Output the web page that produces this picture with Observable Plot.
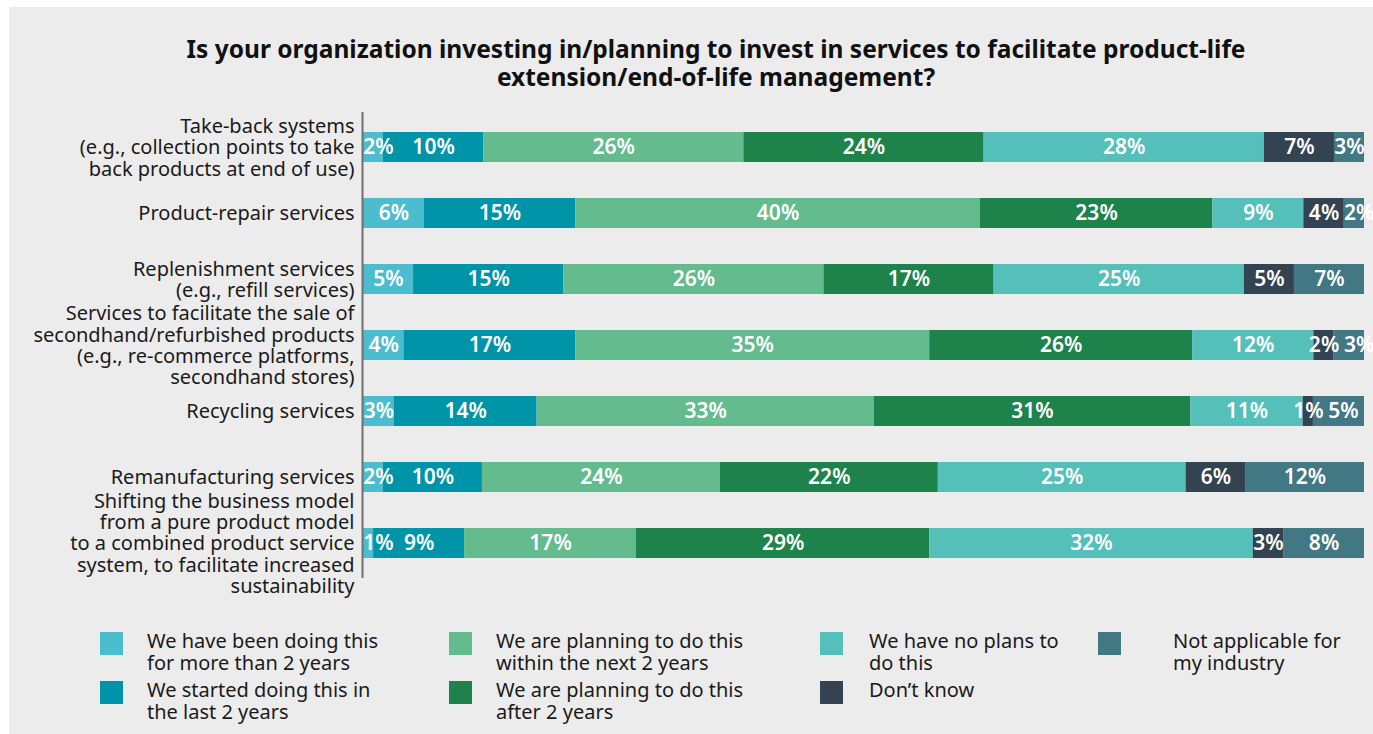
<!DOCTYPE html>
<html><head><meta charset="utf-8">
<script src="https://cdn.jsdelivr.net/npm/d3@7"></script>
<script src="https://cdn.jsdelivr.net/npm/@observablehq/plot@0.6"></script>
<style>
body{margin:0;background:#fff;width:1373px;height:734px;overflow:hidden;position:relative;font-family:"Noto Sans",sans-serif;color:#1a1a1a;}
#panel{position:absolute;left:9px;top:7px;width:1364px;height:727px;background:#ececec;}
#title{position:absolute;left:0;top:35px;width:1432px;text-align:center;font-weight:700;font-size:24.5px;line-height:28px;color:#111;}
#chart{position:absolute;left:0;top:100px;}
.lg-sw{position:absolute;width:23px;height:23px;}
.lg-tx{position:absolute;font-size:20px;line-height:21.5px;color:#1a1a1a;white-space:nowrap;}
</style>
</head><body>
<div id="panel"></div>
<div id="title">Is your organization investing in/planning to invest in services to facilitate product-life<br>extension/end-of-life management?</div>
<div id="chart"></div>
<div id="legend"></div>
<script>
const categories = [
  "Take-back systems",
  "Product-repair services",
  "Replenishment services",
  "Secondhand/refurbished",
  "Recycling services",
  "Remanufacturing services",
  "Product service system"
];
const categoryLabels = [
  "Take-back systems\n(e.g., collection points to take\nback products at end of use)",
  "Product-repair services",
  "Replenishment services\n(e.g., refill services)",
  "Services to facilitate the sale of\nsecondhand/refurbished products\n(e.g., re-commerce platforms,\nsecondhand stores)",
  "Recycling services",
  "Remanufacturing services",
  "Shifting the business model\nfrom a pure product model\nto a combined product service\nsystem, to facilitate increased\nsustainability"
];
const series = [
  "We have been doing this\nfor more than 2 years",
  "We started doing this in\nthe last 2 years",
  "We are planning to do this\nwithin the next 2 years",
  "We are planning to do this\nafter 2 years",
  "We have no plans to\ndo this",
  "Don’t know",
  "Not applicable for\nmy industry"
];
const colors = ["#4bbdcf","#0094a8","#63bb8e","#1d834a","#55bfba","#334351","#427784"];
const takeBack      = [2,10,26,24,28,7,3];
const productRepair = [6,15,40,23,9,4,2];
const replenishment = [5,15,26,17,25,5,7];
const secondhand    = [4,17,35,26,12,2,3];
const recycling     = [3,14,33,31,11,1,5];
const remanufacture = [2,10,24,22,25,6,12];
const productService= [1,9,17,29,32,3,8];
const values = [takeBack, productRepair, replenishment, secondhand, recycling, remanufacture, productService];

const data = categories.flatMap((c,i)=>series.map((s,j)=>({cat:c, series:s, value:values[i][j]})));
const labelOf = new Map(categories.map((c,i)=>[c, categoryLabels[i]]));

// value labels: segment midpoints (normalized), nudged so neighbouring labels do not collide
const W = 1373, ML = 363, MR = 9, FS = 21;
const unitPx = W - ML - MR;
const halfW = v => ((String(v).length*0.572 + 0.86) * FS / 2 + 2.5) / unitPx;
const labels = categories.flatMap((c,i)=>{
  const row = values[i], total = d3.sum(row);
  let acc = 0, prevEnd = 0;
  return row.map((v,j)=>{
    const hw = halfW(v);
    let mid = (acc + v/2)/total;
    mid = Math.max(mid, prevEnd + hw - (j === 0 ? 2.5/unitPx : 0));
    prevEnd = mid + hw;
    acc += v;
    return {cat:c, mid, text:v+"%"};
  });
});

const chart = Plot.plot({
  width:W, height:488,
  marginLeft:ML, marginRight:MR, marginTop:12, marginBottom:10,
  style:{background:"transparent", fontFamily:"'Noto Sans', sans-serif", overflow:"visible"},
  x:{axis:null, domain:[0,1]},
  y:{domain:categories, paddingInner:0.55, paddingOuter:0.275, axis:null},
  color:{domain:series, range:colors},
  marks:[
    Plot.barX(data, Plot.stackX({x:"value", y:"cat", fill:"series", order:series, offset:"normalize"})),
    Plot.ruleX([0], {stroke:"#707070", strokeWidth:2, dx:-1}),
    Plot.text(labels, {x:"mid", y:"cat", text:"text", fill:"white", fontSize:FS, fontWeight:600}),
    Plot.axisY({tickSize:0, tickPadding:9, fontSize:20, lineHeight:1.065, fill:"#1a1a1a", label:null,
      tickFormat:d=>labelOf.get(d)})
  ]
});
document.getElementById("chart").appendChild(chart);

// legend (HTML, column-major)
const legendCols = [[100,147],[449,496],[820,869],[1098,1173]];
const legendRows = [632,681];
const legend = document.getElementById("legend");
series.forEach((s,i)=>{
  const col = legendCols[Math.floor(i/2)], row = legendRows[i%2];
  const sw = document.createElement("div");
  sw.className="lg-sw"; sw.style.left=col[0]+"px"; sw.style.top=row+"px"; sw.style.background=colors[i];
  const tx = document.createElement("div");
  tx.className="lg-tx"; tx.style.left=col[1]+"px"; tx.style.top=(row-2)+"px";
  tx.innerHTML = s.split("\n").join("<br>");
  legend.appendChild(sw); legend.appendChild(tx);
});
</script>
</body></html>
